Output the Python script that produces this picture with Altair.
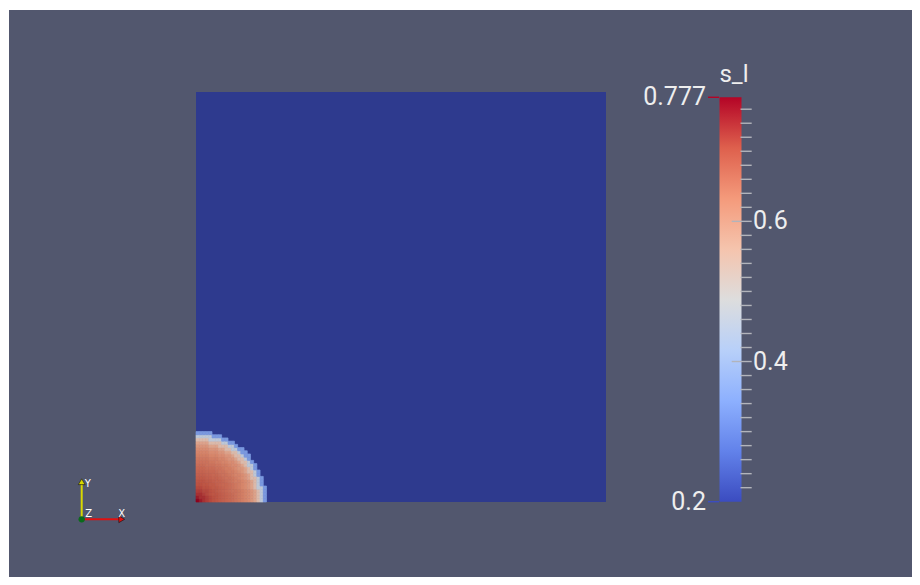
import math
import altair as alt
import pandas as pd

# ---------------- data ----------------
grid_n = 128                      # cells per side of the unit square
# s_l value for cells whose centre lies at integer radius k (in cells) from the corner
radial_profile = [0.777, 0.755, 0.735, 0.722, 0.712, 0.704, 0.698, 0.692, 0.686, 0.68,
                  0.675, 0.669, 0.662, 0.655, 0.647, 0.638, 0.627, 0.612, 0.588, 0.54,
                  0.46, 0.34]
background_value = 0.2
value_min, value_max = 0.2, 0.777

cmap_offsets = [0.0, 0.125, 0.25, 0.375, 0.5, 0.625, 0.75, 0.875, 1.0]
cmap_colors = ["#3b4cc0", "#6282ea", "#8db0fe", "#b8d0f9", "#dddddd",
               "#f5c4ad", "#f49a7b", "#de604d", "#b40426"]

minor_ticks = [0.22, 0.24, 0.26, 0.28, 0.30, 0.32, 0.34, 0.36, 0.38, 0.42, 0.44,
               0.46, 0.48, 0.50, 0.52, 0.54, 0.56, 0.58, 0.62, 0.64, 0.66, 0.68,
               0.70, 0.72, 0.74, 0.76]
major_ticks = [0.4, 0.6]
major_labels = ["0.4", "0.6"]
end_values = [0.777, 0.2]
end_labels = ["0.777", "0.2"]
bar_title = "s_l"

# orientation triad (in plot-data units)
triad_origin = (-0.2788, -0.0422)
triad_x_end = (-0.1812, -0.0422)
triad_y_end = (-0.2788, 0.0495)

# ---------------- styling / layout ----------------
BG = "#52576e"
FONT = "Roboto"
TXT = "#eeeeee"

W, H = 903, 567
PX = 410.0                 # pixels per data unit
X0_PX, Y1_PX = 187.0, 82.0  # plot pixel of data x=0 and of data y=1

def shade(hex_color):
    r, g, b = (int(hex_color[i:i + 2], 16) for i in (1, 3, 5))
    lum = (0.299 * r + 0.587 * g + 0.114 * b) / 255.0
    k = 0.72 + 0.24 * lum
    return "#%02x%02x%02x" % (round(r * k), round(g * k), round(b * k))

shaded_colors = [shade(c) for c in cmap_colors]
cmap_domain = [value_min + o * (value_max - value_min) for o in cmap_offsets]

xmin = -X0_PX / PX
ymax = 1 + Y1_PX / PX
xs = alt.Scale(domain=[xmin, xmin + W / PX], nice=False, zero=False)
ys = alt.Scale(domain=[ymax - H / PX, ymax], nice=False, zero=False)
# colour-bar value scale (pixel range of the bar)
cb = alt.Scale(domain=[value_min, value_max], range=[491.7, 87.3], nice=False, zero=False)

# ---------------- tables ----------------
cell = 1.0 / grid_n
rows = []
for i in range(len(radial_profile) + 2):
    for j in range(len(radial_profile) + 2):
        k = int(math.hypot(i + 0.5, j + 0.5))
        if k < len(radial_profile):
            rows.append({"x": i * cell, "x2": (i + 1) * cell,
                         "y": j * cell, "y2": (j + 1) * cell,
                         "v": radial_profile[k]})
cells = pd.DataFrame(rows)

domain_df = pd.DataFrame({"x": [0.0], "x2": [1.0], "y": [0.0], "y2": [1.0],
                          "v": [background_value]})

color_scale = alt.Scale(domain=cmap_domain, range=shaded_colors, interpolate="rgb")

field = alt.Chart(domain_df).mark_rect(fill="#2e3a8e").encode(
    x=alt.X("x:Q", scale=xs, axis=None), x2="x2:Q",
    y=alt.Y("y:Q", scale=ys, axis=None), y2="y2:Q")

heat = alt.Chart(cells).mark_rect(strokeWidth=0.7).encode(
    x=alt.X("x:Q", scale=xs, axis=None), x2="x2:Q",
    y=alt.Y("y:Q", scale=ys, axis=None), y2="y2:Q",
    color=alt.Color("v:Q", scale=color_scale, legend=None),
    stroke=alt.Stroke("v:Q", scale=color_scale, legend=None))

# colour bar
grad = alt.Gradient(gradient="linear", x1=0, x2=0, y1=1, y2=0,
                    stops=[alt.GradientStop(offset=o, color=c)
                           for o, c in zip(cmap_offsets, cmap_colors)])
bar_df = pd.DataFrame({"v": [value_min], "v2": [value_max]})
bar = alt.Chart(bar_df).mark_rect(fill=grad).encode(
    x=alt.value(710.5), x2=alt.value(732.5),
    y=alt.Y("v:Q", scale=cb, axis=None), y2="v2:Q")

minor = alt.Chart(pd.DataFrame({"v": minor_ticks})).mark_rule(
    color="#b2b4bb", strokeWidth=1.4).encode(
    x=alt.value(731.5), x2=alt.value(742.7),
    y=alt.Y("v:Q", scale=cb, axis=None))

major = alt.Chart(pd.DataFrame({"v": major_ticks, "t": major_labels})).mark_rule(
    color="#b2b4bb", strokeWidth=1.4).encode(
    x=alt.value(722.7), x2=alt.value(742.7),
    y=alt.Y("v:Q", scale=cb, axis=None))

major_txt = alt.Chart(pd.DataFrame({"v": major_ticks, "t": major_labels})).mark_text(
    align="left", baseline="middle", font=FONT, fontSize=25, color=TXT).encode(
    x=alt.value(744), y=alt.Y("v:Q", scale=cb, axis=None), text="t:N")

end_df = pd.DataFrame({"v": end_values, "t": end_labels,
                       "c": [cmap_colors[-1], cmap_colors[0]]})
end_ticks = alt.Chart(end_df).mark_rule(strokeWidth=1.4).encode(
    x=alt.value(699), x2=alt.value(710),
    y=alt.Y("v:Q", scale=cb, axis=None),
    color=alt.Color("c:N", scale=None, legend=None))
end_txt = alt.Chart(end_df).mark_text(
    align="right", baseline="middle", font=FONT, fontSize=25, color=TXT).encode(
    x=alt.value(697), y=alt.Y("v:Q", scale=cb, axis=None), text="t:N")

title_txt = alt.Chart(pd.DataFrame({"t": [bar_title]})).mark_text(
    align="center", baseline="alphabetic", font=FONT, fontSize=24, color=TXT).encode(
    x=alt.value(725), y=alt.value(71.5), text="t:N")

# orientation triad
axes_df = pd.DataFrame({
    "x": [triad_origin[0], triad_origin[0]], "y": [triad_origin[1], triad_origin[1]],
    "x2": [triad_x_end[0], triad_y_end[0]], "y2": [triad_x_end[1], triad_y_end[1]],
    "c": ["#e01010", "#d8d800"]})
triad_lines = alt.Chart(axes_df).mark_rule(strokeWidth=2).encode(
    x=alt.X("x:Q", scale=xs, axis=None), x2="x2:Q",
    y=alt.Y("y:Q", scale=ys, axis=None), y2="y2:Q",
    color=alt.Color("c:N", scale=None, legend=None))

heads_df = pd.DataFrame({"x": [triad_x_end[0], triad_y_end[0]],
                         "y": [triad_x_end[1], triad_y_end[1]],
                         "s": ["triangle-right", "triangle-up"],
                         "c": ["#e01010", "#d8d800"]})
heads = alt.Chart(heads_df).mark_point(filled=True, size=45, opacity=1,
                                       stroke="#111111", strokeWidth=0.6).encode(
    x=alt.X("x:Q", scale=xs, axis=None), y=alt.Y("y:Q", scale=ys, axis=None),
    shape=alt.Shape("s:N", scale=None, legend=None),
    fill=alt.Fill("c:N", scale=None, legend=None))

origin = alt.Chart(pd.DataFrame({"x": [triad_origin[0]], "y": [triad_origin[1]]})).mark_point(
    filled=True, size=40, color="#0a6a1a", opacity=1).encode(
    x=alt.X("x:Q", scale=xs, axis=None), y=alt.Y("y:Q", scale=ys, axis=None))

lab_df = pd.DataFrame({"x": [triad_x_end[0], triad_y_end[0], triad_origin[0]],
                       "y": [triad_x_end[1], triad_y_end[1], triad_origin[1]],
                       "t": ["X", "Y", "Z"],
                       "dx": [0, 6, 7], "dy": [-5, 2, -5]})
labels = alt.layer(*[
    alt.Chart(lab_df.iloc[[i]]).mark_text(font="DejaVu Sans", fontSize=10, color="white",
                                           align="center", baseline="middle",
                                           dx=int(lab_df.dx[i]), dy=int(lab_df.dy[i])).encode(
        x=alt.X("x:Q", scale=xs, axis=None), y=alt.Y("y:Q", scale=ys, axis=None),
        text="t:N")
    for i in range(len(lab_df))])

chart = alt.layer(field, heat, triad_lines, heads, origin, labels,
                  bar, minor, major, major_txt, end_ticks, end_txt, title_txt
                  ).resolve_scale(y="independent", color="independent"
                  ).properties(
    width=W, height=H,
    padding={"left": 1, "top": 2, "right": 0, "bottom": 0},
    autosize=alt.AutoSizeParams(type="none"),
    background="white",
).configure_view(fill=BG, stroke="transparent", strokeWidth=0)

chart.save("out.html", embed_options={"renderer": "svg", "actions": False})
